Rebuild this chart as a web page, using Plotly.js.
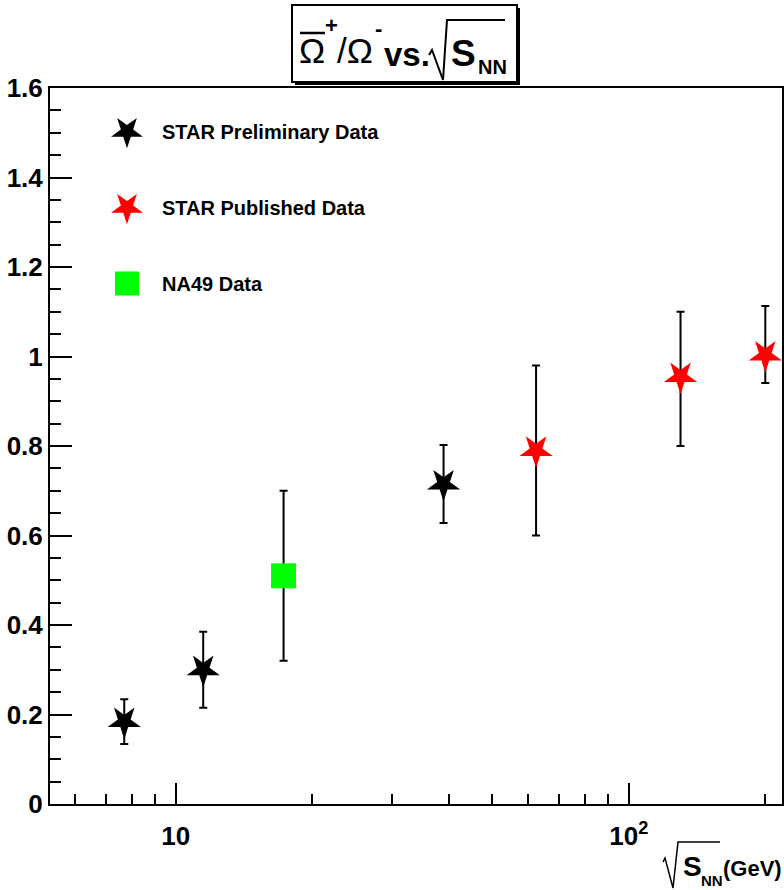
<!DOCTYPE html>
<html>
<head>
<meta charset="utf-8">
<script src="https://cdn.plot.ly/plotly-3.0.1.min.js"></script>
<style>html,body{margin:0;padding:0;background:#fff;}#chart{width:784px;height:890px;}</style>
</head>
<body>
<div id="chart"></div>
<script>
// ---- data ----
const prelimEnergy = [7.7, 11.5, 39];
const prelimRatio  = [0.184, 0.300, 0.715];
const prelimErr    = [0.050, 0.085, 0.087];

const pubEnergy    = [62.4, 130, 200];
const pubRatio     = [0.790, 0.955, 1.003];
const pubErrPlus   = [0.190, 0.145, 0.110];
const pubErrMinus  = [0.190, 0.155, 0.062];

const na49Energy   = [17.3];
const na49Ratio    = [0.510];
const na49Err      = [0.190];

const legendNames  = ["STAR Preliminary Data", "STAR Published Data", "NA49 Data"];
const xTickVals    = [10, 100];
const xTickText    = ["10", "10<sup>2</sup>"];
const xMinorVals   = [6, 7, 8, 9, 20, 30, 40, 50, 60, 70, 80, 90, 200];

const FONT = "Liberation Sans, Arial, Helvetica, sans-serif";

const errStyle = {color: "#000", thickness: 2, width: 4};

const traces = [
  {
    type: "scatter", mode: "markers", name: legendNames[0], legendgroup: "a",
    x: prelimEnergy, y: prelimRatio,
    error_y: Object.assign({type: "data", array: prelimErr, visible: true}, errStyle),
    marker: {symbol: "star", angle: 180, size: 25, color: "#000", line: {width: 0}}
  },
  {
    type: "scatter", mode: "markers", name: legendNames[1], legendgroup: "b",
    x: pubEnergy, y: pubRatio,
    error_y: Object.assign({type: "data", symmetric: false, array: pubErrPlus, arrayminus: pubErrMinus, visible: true}, errStyle),
    marker: {symbol: "star", angle: 180, size: 25, color: "#ff0000", line: {width: 0}}
  },
  {
    type: "scatter", mode: "markers", name: legendNames[2], legendgroup: "c",
    x: na49Energy, y: na49Ratio,
    error_y: Object.assign({type: "data", array: na49Err, visible: true}, errStyle),
    marker: {symbol: "square", size: 25, color: "#00ff00", line: {width: 0}}
  }
];

function px2x(p){ return (p - 50) / 732; }
function px2y(p){ return (804 - p) / 716; }

function txt(text, cx, cy, size, bold, anchor){
  return {
    xref: "paper", yref: "paper", x: px2x(cx), y: px2y(cy),
    xanchor: anchor || "center", yanchor: "middle", showarrow: false,
    text: text,
    font: {family: FONT, size: size, color: "#000", weight: bold ? "bold" : "normal"}
  };
}
function pathPx(pts, w){
  let d = "";
  pts.forEach((p, i) => { d += (i ? " L " : "M ") + px2x(p[0]).toFixed(5) + "," + px2y(p[1]).toFixed(5); });
  return {type: "path", xref: "paper", yref: "paper", path: d, line: {width: w, color: "#000"}, layer: "above"};
}

const layout = {
  width: 784, height: 890,
  margin: {l: 50, r: 2, t: 88, b: 86},
  paper_bgcolor: "#fff", plot_bgcolor: "#fff",
  font: {family: FONT, color: "#000", size: 26, weight: "bold"},
  showlegend: true,
  legend: {
    x: px2x(92), y: px2y(112), xanchor: "left", yanchor: "top",
    bgcolor: "rgba(0,0,0,0)", borderwidth: 0,
    font: {family: FONT, size: 20, color: "#000", weight: "bold"},
    traceorder: "grouped", tracegroupgap: 47, itemsizing: "trace", itemwidth: 60
  },
  xaxis: {
    type: "log",
    range: [Math.log10(5.28), Math.log10(217.7)],
    tickmode: "array", tickvals: xTickVals, ticktext: xTickText,
    ticks: "inside", ticklen: 21, tickwidth: 2, tickcolor: "#000",
    minor: {tickmode: "array", tickvals: xMinorVals, ticks: "inside", ticklen: 10, tickwidth: 2, tickcolor: "#000", showgrid: false},
    showline: true, linewidth: 2, linecolor: "#000", mirror: true,
    showgrid: false, zeroline: false, ticklabelstandoff: 8,
    tickfont: {family: FONT, size: 26, weight: "bold"}
  },
  yaxis: {
    range: [0, 1.6], dtick: 0.2, tick0: 0,
    ticks: "inside", ticklen: 22, tickwidth: 2, tickcolor: "#000",
    minor: {dtick: 0.05, ticks: "inside", ticklen: 11, tickwidth: 2, tickcolor: "#000", showgrid: false},
    showline: true, linewidth: 2, linecolor: "#000", mirror: true,
    showgrid: false, zeroline: false,
    tickfont: {family: FONT, size: 26, weight: "bold"}
  },
  shapes: [
    // title box shadow + box
    {type: "rect", xref: "paper", yref: "paper", x0: px2x(295), x1: px2x(520), y0: px2y(85), y1: px2y(8), fillcolor: "#000", line: {width: 0}, layer: "above"},
    {type: "rect", xref: "paper", yref: "paper", x0: px2x(292), x1: px2x(517), y0: px2y(82), y1: px2y(5), fillcolor: "#fff", line: {width: 2, color: "#000"}, layer: "above"},
    // overbar on first Omega
    pathPx([[300, 33], [325, 33]], 2.5),
    // radical in title
    pathPx([[429, 55], [432, 50], [443, 80], [447, 20], [505, 20]], 2),
    // radical in x title
    pathPx([[663, 862], [665, 858], [673, 888], [678, 842], [720, 842]], 1.5)
  ],
  annotations: [
    // title pieces
    txt("Ω", 312, 51, 35, false),
    txt("+", 331, 25, 22, true),
    txt("/Ω", 355, 51, 35, false),
    txt("-", 378, 29, 22, true),
    txt("vs.", 407, 54, 33, true),
    txt("S", 463, 53, 37, true),
    txt("NN", 492, 67, 20, true),
    // x-axis title pieces
    txt("S", 692, 867, 28, true),
    txt("NN", 712, 880, 15, true),
    txt("(GeV)", 784, 869, 22, true, "right")
  ]
};

Plotly.newPlot("chart", traces, layout, {displayModeBar: false, staticPlot: true}).then(function(){
  document.querySelectorAll(".legend .legendpoints path.scatterpts").forEach(function(p){
    const t = p.getAttribute("transform") || "";
    p.setAttribute("transform", t + " scale(1.5)");
  });
});
</script>
</body>
</html>
